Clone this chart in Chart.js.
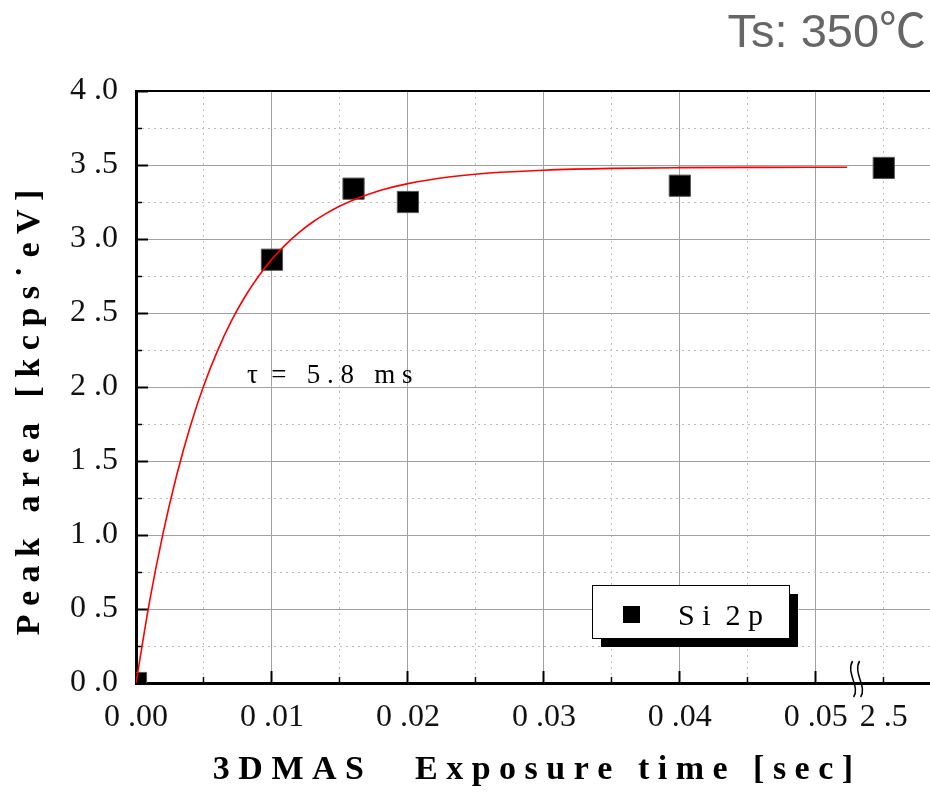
<!DOCTYPE html>
<html>
<head>
<meta charset="utf-8">
<script src="https://cdn.jsdelivr.net/npm/chart.js@4.4.1/dist/chart.umd.min.js"></script>
<style>
  html, body { margin: 0; padding: 0; background: #fff; }
  #wrap { width: 930px; height: 792px; }
</style>
</head>
<body>
<div id="wrap"><canvas id="chart"></canvas></div>
<script>
// Si 2p peak area vs 3DMAS exposure (Ts 350 C)
const expTime = [0, 0.010, 0.016, 0.020, 0.040, 2.5];
const expArea = [0.0, 2.86, 3.34, 3.25, 3.36, 3.48];

// red fit line (tau = 5.8 ms)
const fitTime = [0, 0.001, 0.002, 0.003, 0.004, 0.005, 0.006, 0.007, 0.008, 0.009, 0.010,
  0.011, 0.012, 0.013, 0.014, 0.015, 0.016, 0.017, 0.018, 0.020, 0.023, 0.026, 0.030,
  0.035, 0.040, 0.046, 0.0523];
const fitArea = [0.0, 0.552, 1.016, 1.407, 1.737, 2.013, 2.246, 2.443, 2.608, 2.747, 2.864,
  2.962, 3.045, 3.115, 3.173, 3.223, 3.264, 3.299, 3.329, 3.374, 3.419, 3.446, 3.465,
  3.477, 3.482, 3.484, 3.485];

const xTickValues = [0, 0.01, 0.02, 0.03, 0.04, 0.05, 0.055];
const xTickLabels = ['0 .00', '0 .01', '0 .02', '0 .03', '0 .04', '0 .05', '2 .5'];
const yTickValues = [0, 0.5, 1, 1.5, 2, 2.5, 3, 3.5, 4];
const yTickLabels = ['0 .0', '0 .5', '1 .0', '1 .5', '2 .0', '2 .5', '3 .0', '3 .5', '4 .0'];

// the axis is broken after 0.05 s; 2.5 s sits in the 0.055 slot
const BREAK_VALUE = 2.5;
const BREAK_SLOT = 0.055;
const BREAK_MARK = 0.053;
const X_MAX = 0.0584;

const SERIF = "'Liberation Serif', 'Times New Roman', serif";
const SANS = "'Liberation Sans', Arial, 'Noto Sans CJK JP', sans-serif";

const TITLE = 'Ts: 350\u2103\u200a';
const X_TITLE = '3 D M A S      E x p o s u r e   t i m e   [ s e c ]';
const Y_TITLE = 'P e a k   a r e a   [ k c p s \u02d9 e V ]      ';
const TAU_TEXT = '\u03c4  =   5 . 8   m s';
const TAU_AT = { x: 0.00816, y: 2.027 };
const LEGEND_AT = { x: 0.03353, y: 0.662 };

const toAxis = t => (t > 1 ? BREAK_SLOT + (t - BREAK_VALUE) * 0.001 : t);
const near = (a, b) => Math.abs(a - b) < 1e-7;
const isMajorX = v => near(v / 0.01, Math.round(v / 0.01));
const isMajorY = v => near(v / 0.5, Math.round(v / 0.5));
const CLEAR = 'rgba(0,0,0,0)';

function tickLabel(values, labels, v) {
  const i = values.findIndex(t => near(t, v));
  return i < 0 ? '' : labels[i];
}

const extras = {
  id: 'extras',
  afterDatasetsDraw(chart) {
    const { ctx } = chart;
    const xs = chart.scales.x, ys = chart.scales.y;
    ctx.save();

    // tau note
    ctx.fillStyle = '#000';
    ctx.font = '27px ' + SERIF;
    ctx.textAlign = 'left';
    ctx.textBaseline = 'alphabetic';
    ctx.fillText(TAU_TEXT, xs.getPixelForValue(TAU_AT.x), ys.getPixelForValue(TAU_AT.y));

    // legend box with drop shadow
    const ds = chart.data.datasets[1];
    const lx = Math.round(xs.getPixelForValue(LEGEND_AT.x));
    const ly = Math.round(ys.getPixelForValue(LEGEND_AT.y));
    const w = 197, h = 53;
    ctx.fillStyle = '#000';
    ctx.fillRect(lx + 9, ly + 9, w, h);
    ctx.fillStyle = '#fff';
    ctx.fillRect(lx, ly, w, h);
    ctx.strokeStyle = '#000';
    ctx.lineWidth = 1;
    ctx.strokeRect(lx + 0.5, ly + 0.5, w, h);
    ctx.fillStyle = ds.backgroundColor;
    ctx.fillRect(lx + 31, ly + 21, 17, 17);
    ctx.fillStyle = '#000';
    ctx.font = '30px ' + SERIF;
    ctx.fillText(ds.label, lx + 86, ly + 40);

    // axis break squiggles
    const bx = xs.getPixelForValue(BREAK_MARK);
    const by = ys.getPixelForValue(0);
    ctx.lineWidth = 1.5;
    for (const dx of [-3, 4]) {
      ctx.beginPath();
      ctx.moveTo(bx + dx - 1, by - 22);
      ctx.bezierCurveTo(bx + dx - 8, by - 10, bx + dx + 7, by + 4, bx + dx, by + 14);
      ctx.stroke();
    }
    ctx.restore();
  }
};

new Chart(document.getElementById('chart'), {
  data: {
    datasets: [
      {
        type: 'line',
        label: 'fit',
        data: fitTime.map((t, i) => ({ x: toAxis(t), y: fitArea[i] })),
        borderColor: '#ff0000',
        borderWidth: 1.6,
        pointRadius: 0,
        cubicInterpolationMode: 'monotone',
        fill: false,
      },
      {
        type: 'scatter',
        label: 'S i  2 p',
        data: expTime.map((t, i) => ({ x: toAxis(t), y: expArea[i] })),
        backgroundColor: '#000',
        borderColor: '#555',
        borderWidth: 1,
        pointStyle: 'rect',
        pointRadius: 15,
        clip: 0,
      },
    ],
  },
  options: {
    responsive: true,
    maintainAspectRatio: false,
    animation: false,
    layout: { padding: 0, autoPadding: false },
    plugins: {
      legend: { display: false },
      tooltip: { enabled: false },
      title: {
        display: true,
        text: TITLE,
        align: 'end',
        color: '#666',
        font: { family: SANS, size: 47, weight: 'normal', lineHeight: 1.2 },
        padding: { top: 6, bottom: 28.6 },
      },
    },
    scales: {
      x: {
        type: 'linear', position: 'bottom', weight: 1, min: 0, max: X_MAX,
        afterFit: s => { s.height = 109; s.paddingLeft = 0; s.paddingRight = 0; },
        ticks: {
          stepSize: 0.005, includeBounds: false, autoSkip: false, maxRotation: 0,
          padding: 27, color: '#111', font: { family: SERIF, size: 32 },
          callback: v => tickLabel(xTickValues, xTickLabels, v),
        },
        grid: {
          color: c => (isMajorX(c.tick.value) && c.tick.value > 0 ? '#a0a0a0' : CLEAR),
          tickLength: -12, tickWidth: 2,
          tickColor: c => (isMajorX(c.tick.value) ? '#000' : CLEAR),
        },
        border: { color: '#000', width: 3 },
        title: {
          display: true, text: X_TITLE, color: '#000',
          font: { family: SERIF, size: 34, weight: 'bold' },
          padding: { top: 1, bottom: 1 },
        },
      },
      xMinor: {
        type: 'linear', position: 'bottom', weight: 0, min: 0, max: X_MAX,
        afterFit: s => { s.height = 0; s.paddingLeft = 0; s.paddingRight = 0; },
        ticks: { display: false, stepSize: 0.005, includeBounds: false },
        grid: {
          color: c => (isMajorX(c.tick.value) ? CLEAR : '#bdbdbd'),
          tickLength: -6, tickWidth: 1.5,
          tickColor: c => (isMajorX(c.tick.value) ? CLEAR : '#000'),
        },
        border: { display: false, dash: [2, 4] },
      },
      xTop: {
        type: 'linear', position: 'top', min: 0, max: X_MAX,
        afterFit: s => { s.height = 0; s.paddingLeft = 0; s.paddingRight = 0; },
        ticks: { display: false },
        grid: { display: false, drawTicks: false },
        border: { color: '#000', width: 2 },
      },
      y: {
        type: 'linear', position: 'left', weight: 1, min: 0, max: 4,
        afterFit: s => { s.width = 136; },
        ticks: {
          stepSize: 0.5, padding: 30, color: '#111', font: { family: SERIF, size: 32 },
          callback: v => tickLabel(yTickValues, yTickLabels, v),
        },
        grid: {
          color: c => (c.tick.value > 0 && c.tick.value < 4 ? '#a0a0a0' : CLEAR),
          tickLength: -12, tickWidth: 2, tickColor: '#000',
        },
        border: { color: '#000', width: 3 },
        title: {
          display: true, text: Y_TITLE, color: '#000',
          font: { family: SERIF, size: 34, weight: 'bold' },
          padding: { top: 10, bottom: 10 },
        },
      },
      yMinor: {
        type: 'linear', position: 'left', weight: 0, min: 0, max: 4,
        afterFit: s => { s.width = 0; },
        ticks: { display: false, stepSize: 0.25 },
        grid: {
          color: c => (isMajorY(c.tick.value) ? CLEAR : '#bdbdbd'),
          tickLength: -6, tickWidth: 1.5,
          tickColor: c => (isMajorY(c.tick.value) ? CLEAR : '#000'),
        },
        border: { display: false, dash: [2, 4] },
      },
    },
  },
  plugins: [extras],
});
</script>
</body>
</html>
